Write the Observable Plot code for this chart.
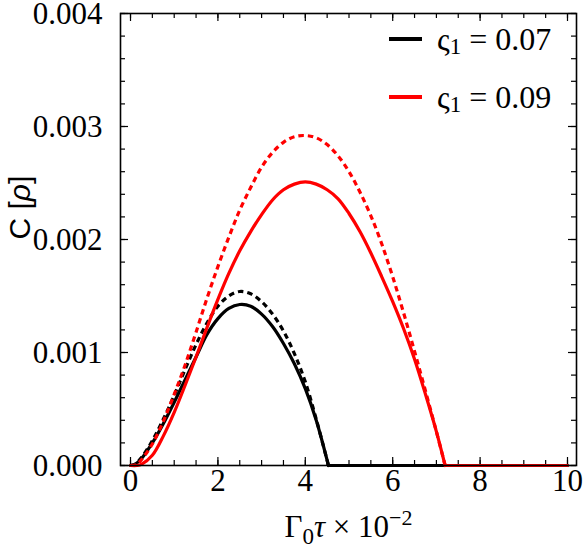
<!DOCTYPE html>
<html><head><meta charset="utf-8">
<script src="https://cdn.jsdelivr.net/npm/d3@7"></script>
<script src="https://cdn.jsdelivr.net/npm/@observablehq/plot@0.6"></script>
<style>body{margin:0;background:#fff;} #chart{width:583px;height:554px;}</style>
</head><body><div id="chart"></div>
<script>
// ---- data ----
const tauBlack = [0, 0.1, 0.25, 0.5, 0.75, 1.0, 1.25, 1.5, 1.75, 2.0, 2.25, 2.5, 2.75, 3.0, 3.25, 3.5, 3.75, 4.0, 4.25, 4.53];
const cBlackSolid  = [0, 0.00001, 0.00006, 0.00020, 0.00037, 0.00056, 0.00076, 0.00096, 0.00116, 0.00130, 0.00139, 0.001425, 0.00141, 0.00134, 0.00123, 0.00108, 0.00090, 0.00068, 0.00040, 0];
const cBlackDashed = [0, 0.00001, 0.00007, 0.00022, 0.00041, 0.00062, 0.00085, 0.00107, 0.00126, 0.00141, 0.00150, 0.00154, 0.00152, 0.00145, 0.00134, 0.00119, 0.00099, 0.00074, 0.00041, 0];
const tauRed = [0, 0.15, 0.25, 0.5, 0.75, 1.0, 1.25, 1.5, 1.75, 2.0, 2.25, 2.5, 2.75, 3.0, 3.25, 3.5, 3.75, 4.0, 4.25, 4.5, 4.75, 5.0, 5.25, 5.5, 5.75, 6.0, 6.25, 6.5, 6.75, 7.0, 7.2];
const cRedSolid  = [0, 0, 0.00001, 0.00009, 0.00026, 0.00047, 0.00071, 0.00096, 0.00122, 0.00147, 0.00170, 0.00190, 0.00207, 0.00222, 0.00235, 0.00244, 0.00249, 0.00251, 0.00249, 0.00244, 0.00236, 0.00223, 0.00207, 0.00188, 0.00167, 0.00145, 0.00121, 0.00094, 0.00063, 0.00030, 0];
const cRedDashed = [0, 0.00001, 0.00005, 0.00019, 0.00039, 0.00063, 0.00089, 0.00118, 0.00148, 0.00176, 0.00202, 0.00226, 0.00246, 0.00264, 0.00277, 0.00286, 0.00291, 0.00292, 0.00290, 0.00284, 0.00274, 0.00260, 0.00242, 0.00221, 0.00196, 0.00167, 0.00135, 0.00101, 0.00066, 0.00030, 0];
const tauMax = 10;
const seriesNames = ["0.07", "0.09"];
const seriesColors = ["black", "red"];
const xTicks = [0, 2, 4, 6, 8, 10];
const xTickLabels = ["0", "2", "4", "6", "8", "10"];
const yTicks = [0, 0.001, 0.002, 0.003, 0.004];
const yTickLabels = ["0.000", "0.001", "0.002", "0.003", "0.004"];
const xLabel = "Γ0τ × 10−2";
const yLabel = "C [ρ]";

// ---- layout ----
const W = 583, H = 554, mT = 13, mR = 7, mB = 89, mL = 120;
const innerW = W - mL - mR, innerH = H - mT - mB;
const xMinor = d3.range(0, 10.001, 0.5);
const yMinor = d3.range(0, 0.0040001, 0.0002);
const serif = "'Liberation Serif', 'Times New Roman', serif";
const sans = "'Liberation Sans', Arial, sans-serif";

const rows = (tau, c, series) => tau.map((t, i) => ({tau: t, c: c[i], series}));
const bS = rows(tauBlack, cBlackSolid, seriesNames[0]);
const bD = rows(tauBlack, cBlackDashed, seriesNames[0]);
const rS = rows(tauRed, cRedSolid, seriesNames[1]);
const rD = rows(tauRed, cRedDashed, seriesNames[1]);
const bTail = [{tau: tauBlack[tauBlack.length - 1], c: 0, series: seriesNames[0]}, {tau: tauMax, c: 0, series: seriesNames[0]}];
const rTail = [{tau: tauRed[tauRed.length - 1], c: 0, series: seriesNames[1]}, {tau: tauMax, c: 0, series: seriesNames[1]}];

const lw = 3.2;
const solidLine = (d) => Plot.line(d, {x: "tau", y: "c", stroke: "series", strokeWidth: lw, curve: "catmull-rom"});
const dashedLine = (d) => Plot.line(d, {x: "tau", y: "c", stroke: "series", strokeWidth: lw, curve: "catmull-rom", strokeDasharray: "5.5,4", strokeLinecap: "butt"});
const tailLine = (d) => Plot.line(d, {x: "tau", y: "c", stroke: "series", strokeWidth: lw, curve: "linear"});

function legend(index, scales, values, dims) {
  const right = dims.width - dims.marginRight;
  const g = d3.create("svg:g").attr("text-anchor", "start");
  seriesNames.forEach((name, i) => {
    const cy = dims.marginTop + 26 + i * 58;
    g.append("line").attr("x1", right - 187).attr("x2", right - 154).attr("y1", cy).attr("y2", cy)
      .attr("stroke", seriesColors[i]).attr("stroke-width", 4);
    const t = g.append("text").attr("x", right - 139).attr("y", cy + 11).attr("text-anchor", "start")
      .attr("font-family", serif).attr("font-size", 32).attr("fill", "black");
    t.append("tspan").text("ς");
    t.append("tspan").attr("font-size", 23).attr("dy", 4).text("1");
    t.append("tspan").attr("dy", -4).text(" = " + name);
  });
  return g.node();
}

const svg = Plot.plot({
  width: W, height: H,
  marginTop: mT, marginRight: mR, marginBottom: mB, marginLeft: mL,
  x: {domain: [-0.229, 10.206], axis: null},
  y: {domain: [0, 0.004], axis: null},
  color: {domain: seriesNames, range: seriesColors},
  style: {background: "white", fontFamily: serif, overflow: "visible"},
  marks: [
    // ticks (inward, all four sides)
    Plot.ruleX(xMinor, {x: d => d, insetTop: innerH - 5, stroke: "black", strokeWidth: 1.2}),
    Plot.ruleX(xMinor, {x: d => d, insetBottom: innerH - 5, stroke: "black", strokeWidth: 1.2}),
    Plot.ruleX(xTicks, {x: d => d, insetTop: innerH - 8, stroke: "black", strokeWidth: 1.2}),
    Plot.ruleX(xTicks, {x: d => d, insetBottom: innerH - 8, stroke: "black", strokeWidth: 1.2}),
    Plot.ruleY(yMinor, {y: d => d, insetRight: innerW - 5, stroke: "black", strokeWidth: 1.2}),
    Plot.ruleY(yMinor, {y: d => d, insetLeft: innerW - 5, stroke: "black", strokeWidth: 1.2}),
    Plot.ruleY(yTicks, {y: d => d, insetRight: innerW - 8, stroke: "black", strokeWidth: 1.2}),
    Plot.ruleY(yTicks, {y: d => d, insetLeft: innerW - 8, stroke: "black", strokeWidth: 1.2}),
    // curves
    solidLine(bS), dashedLine(bD), tailLine(bTail),
    solidLine(rS), dashedLine(rD), tailLine(rTail),
    Plot.frame({stroke: "black", strokeWidth: 1.6}),
    // tick labels
    Plot.text(xTicks, {x: d => d, text: (d, i) => xTickLabels[i], frameAnchor: "bottom", dy: 25, fontSize: 31, fontFamily: serif}),
    Plot.text(yTicks, {y: d => d, text: (d, i) => yTickLabels[i], frameAnchor: "left", dx: -18, dy: 1, textAnchor: "end", fontSize: 31, fontFamily: serif}),
    // axis labels
    Plot.text([xLabel], {text: d => d, frameAnchor: "bottom", dy: 71, fontSize: 31, fontFamily: serif}),
    Plot.text([yLabel], {text: d => d, frameAnchor: "left", dx: -100, rotate: -90, fontSize: 30, fontFamily: sans}),
    legend
  ]
});
document.getElementById("chart").append(svg);

// rich text for the axis labels (sub/superscripts, italics)
svg.querySelectorAll("text").forEach(el => {
  if (el.textContent === xLabel) {
    const t = d3.select(el).text(null);
    t.append("tspan").text("Γ");
    t.append("tspan").attr("font-size", 23).attr("dy", 7).text("0");
    t.append("tspan").attr("font-style", "italic").attr("dy", -7).text("τ");
    t.append("tspan").text(" × 10");
    t.append("tspan").attr("font-size", 22).attr("dy", -12).text("−2");
  } else if (el.textContent === yLabel) {
    const t = d3.select(el).text(null);
    t.append("tspan").text("C [");
    t.append("tspan").attr("font-style", "italic").text("ρ");
    t.append("tspan").text("]");
  }
});
</script>
</body></html>
